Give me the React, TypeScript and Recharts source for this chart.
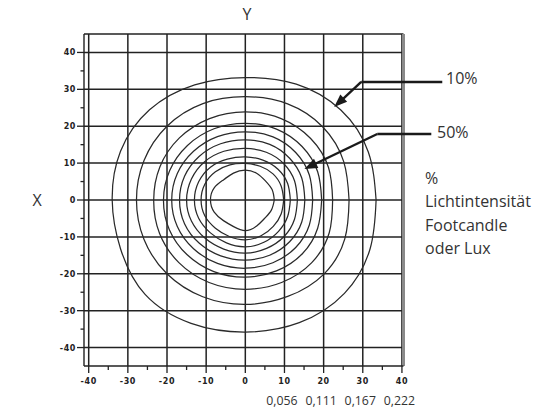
import React from 'react';
import { ComposedChart, Line, XAxis, YAxis, ReferenceLine } from 'recharts';

// angles (degrees) at which contour radii were read
const angles = [0, 22.5, 45, 67.5, 90, 112.5, 135, 157.5, 180, 202.5, 225, 247.5, 270, 292.5, 315, 337.5];

// radius of each iso-contour at the angles above (outer 10% -> inner)
const contour1 = [33.4, 34.0, 34.5, 34.0, 33.2, 33.8, 34.6, 34.5, 34.0, 34.5, 36.2, 36.2, 35.8, 36.0, 35.8, 34.5];
const contour2 = [26.5, 27.2, 28.0, 28.2, 28.0, 28.3, 28.3, 28.0, 27.8, 28.0, 28.3, 28.4, 28.3, 28.3, 28.4, 27.5];
const contour3 = [22.3, 23.0, 23.6, 23.9, 23.9, 23.9, 23.8, 23.6, 23.4, 23.7, 24.0, 24.2, 24.2, 24.2, 24.0, 23.2];
const contour4 = [19.5, 20.0, 20.5, 20.8, 20.8, 20.9, 20.9, 20.9, 20.9, 21.0, 21.0, 21.0, 20.9, 20.8, 20.6, 20.0];
const contour5 = [17.2, 17.7, 18.2, 18.5, 18.5, 18.6, 18.7, 18.8, 18.8, 18.8, 18.7, 18.6, 18.5, 18.4, 18.2, 17.7];
const contour6 = [15.2, 15.6, 16.0, 16.3, 16.3, 16.5, 16.7, 16.8, 16.8, 16.8, 16.6, 16.4, 16.3, 16.2, 16.0, 15.6];
const contour7 = [13.3, 13.6, 13.9, 14.0, 14.0, 14.3, 14.7, 14.9, 15.0, 14.9, 14.6, 14.4, 14.4, 14.2, 14.0, 13.6];
const contour8 = [11.5, 11.7, 11.8, 11.7, 11.7, 12.0, 12.6, 12.9, 13.0, 12.9, 12.6, 12.6, 12.7, 12.4, 12.0, 11.7];
const contour9 = [9.8, 9.9, 10.0, 9.9, 9.9, 10.3, 10.8, 11.2, 11.3, 11.2, 10.8, 10.7, 10.8, 10.5, 10.1, 9.9];
const contour10 = [7.4, 7.4, 7.3, 7.8, 8.1, 7.9, 7.8, 8.6, 8.9, 8.6, 7.9, 7.8, 8.3, 7.6, 7.0, 7.2];

const contours = [contour1, contour2, contour3, contour4, contour5, contour6, contour7, contour8, contour9, contour10];

const xTicks = [-40, -35, -30, -25, -20, -15, -10, -5, 0, 5, 10, 15, 20, 25, 30, 35, 40];
const yTicks = [-40, -35, -30, -25, -20, -15, -10, -5, 0, 5, 10, 15, 20, 25, 30, 35, 40];
const gridValues = [-40, -30, -20, -10, 0, 10, 20, 30, 40];
const secondaryTicks = [10, 20, 30, 40];
const secondaryLabels = ['0,056', '0,111', '0,167', '0,222'];

// annotation arrows: label end, elbow, tip (data coordinates)
const arrowNames = ['10%', '50%'];
const arrowEnd = [[50.3, 32.0], [47.5, 17.9]];
const arrowElbow = [[29.6, 32.0], [33.7, 17.9]];
const arrowTip = [[22.7, 25.2], [15.1, 8.4]];

const legendLines = ['%', 'Lichtintensität', 'Footcandle', 'oder Lux'];

const toPoints = (radii: number[]) => {
  const pts = angles.map((a, i) => ({
    x: radii[i] * Math.cos((a * Math.PI) / 180),
    y: radii[i] * Math.sin((a * Math.PI) / 180),
  }));
  pts.push(pts[0]);
  return pts;
};

const INK = '#222';

const XTick = (props: any) => {
  const { x, y, payload } = props;
  const v = payload.value as number;
  const major = v % 10 === 0;
  const si = secondaryTicks.indexOf(v);
  return (
    <g>
      <line x1={x} x2={x} y1={y} y2={y + (major ? 7 : 4)} stroke={INK} strokeWidth={1.3} />
      {major && (
        <text x={x} y={y + 18} textAnchor="middle" fontFamily="DejaVu Sans" fontSize={8} fontWeight="bold" fill="#222" letterSpacing={0.6}>
          {v < 0 ? `-${Math.abs(v)}` : `${v}`}
        </text>
      )}
      {si >= 0 && (
        <text x={x - 2.5} y={y + 39} textAnchor="middle" fontFamily="Open Sans" fontSize={12.3} fill="#333">
          {secondaryLabels[si]}
        </text>
      )}
    </g>
  );
};

const YTick = (props: any) => {
  const { x, y, payload } = props;
  const v = payload.value as number;
  const major = v % 10 === 0;
  return (
    <g>
      <line x1={x - (major ? 7 : 3.5)} x2={x} y1={y} y2={y} stroke={INK} strokeWidth={1.3} />
      {major && (
        <text x={x - 8} y={y + 3} textAnchor="end" fontFamily="DejaVu Sans" fontSize={8} fontWeight="bold" fill="#222" letterSpacing={0.6}>
          {v < 0 ? `-${Math.abs(v)}` : `${v}`}
        </text>
      )}
    </g>
  );
};

const ArrowShape = (props: any) => {
  const { x1, y1, x2, y2 } = props;
  const dx = x2 - x1;
  const dy = y2 - y1;
  const len = Math.sqrt(dx * dx + dy * dy);
  const ux = dx / len;
  const uy = dy / len;
  const head = 13;
  const half = 5;
  const bx = x2 - ux * head;
  const by = y2 - uy * head;
  const px = -uy;
  const py = ux;
  return (
    <g>
      <line x1={x1} y1={y1} x2={bx + ux * 2} y2={by + uy * 2} stroke="#1a1a1a" strokeWidth={2.4} />
      <polygon
        points={`${x2},${y2} ${bx + px * half},${by + py * half} ${bx - px * half},${by - py * half}`}
        fill="#1a1a1a"
      />
    </g>
  );
};

const SegShape = (props: any) => {
  const { x1, y1, x2, y2 } = props;
  return <line x1={x1} y1={y1} x2={x2} y2={y2} stroke="#1a1a1a" strokeWidth={2.4} />;
};

export default function App() {
  return (
    <div style={{ position: 'absolute', left: 0, top: 0, width: 539, height: 408, background: '#fff' }}>
      <ComposedChart width={539} height={408} margin={{ top: 34, right: 135.5, bottom: 12, left: 0 }}>
        <XAxis
          type="number"
          dataKey="x"
          domain={[-41.2, 40.4]}
          allowDataOverflow
          ticks={xTicks}
          interval={0}
          tickSize={0}
          tickMargin={0}
          tickLine={false}
          height={30}
          axisLine={{ stroke: INK, strokeWidth: 1.4 }}
          tick={<XTick />}
        />
        <YAxis
          type="number"
          dataKey="y"
          domain={[-45, 45]}
          allowDataOverflow
          ticks={yTicks}
          interval={0}
          tickSize={0}
          tickMargin={0}
          tickLine={false}
          width={84}
          axisLine={{ stroke: INK, strokeWidth: 1.4 }}
          tick={<YTick />}
        />
        {gridValues.map((v) => (
          <ReferenceLine key={`gx${v}`} x={v} stroke={INK} strokeWidth={1.5} ifOverflow="visible" />
        ))}
        {gridValues.map((v) => (
          <ReferenceLine key={`gy${v}`} y={v} stroke={INK} strokeWidth={1.5} ifOverflow="visible" />
        ))}
        <ReferenceLine y={45} stroke={INK} strokeWidth={1.4} ifOverflow="visible" />
        <ReferenceLine x={40.4} stroke="#8a8a8a" strokeWidth={3} ifOverflow="visible" />
        {contours.map((c, i) => (
          <Line
            key={`c${i}`}
            data={toPoints(c)}
            dataKey="y"
            type="natural"
            stroke="#2a2a2a"
            strokeWidth={1.25}
            dot={false}
            activeDot={false}
            isAnimationActive={false}
          />
        ))}
        {arrowNames.map((n, i) => (
          <ReferenceLine
            key={`ah${n}`}
            segment={[
              { x: arrowEnd[i][0], y: arrowEnd[i][1] },
              { x: arrowElbow[i][0], y: arrowElbow[i][1] },
            ]}
            ifOverflow="visible"
            shape={(p: any) => <SegShape {...p} />}
          />
        ))}
        {arrowNames.map((n, i) => (
          <ReferenceLine
            key={`ad${n}`}
            segment={[
              { x: arrowElbow[i][0], y: arrowElbow[i][1] },
              { x: arrowTip[i][0], y: arrowTip[i][1] },
            ]}
            ifOverflow="visible"
            shape={(p: any) => <ArrowShape {...p} />}
          />
        ))}
      </ComposedChart>
      <svg width={539} height={408} style={{ position: 'absolute', left: 0, top: 0, pointerEvents: 'none' }}>
        <g fontFamily="Open Sans" fill="#333" fontSize={16}>
          <text x={247} y={14} textAnchor="middle" dominantBaseline="central">Y</text>
          <text x={37} y={200} textAnchor="middle" dominantBaseline="central">X</text>
          <text x={446} y={78} dominantBaseline="central">{arrowNames[0]}</text>
          <text x={437} y={132} dominantBaseline="central">{arrowNames[1]}</text>
          {legendLines.map((t, i) => (
            <text key={t} x={425} y={178 + i * 23.3} dominantBaseline="central">{t}</text>
          ))}
        </g>
      </svg>
    </div>
  );
}
